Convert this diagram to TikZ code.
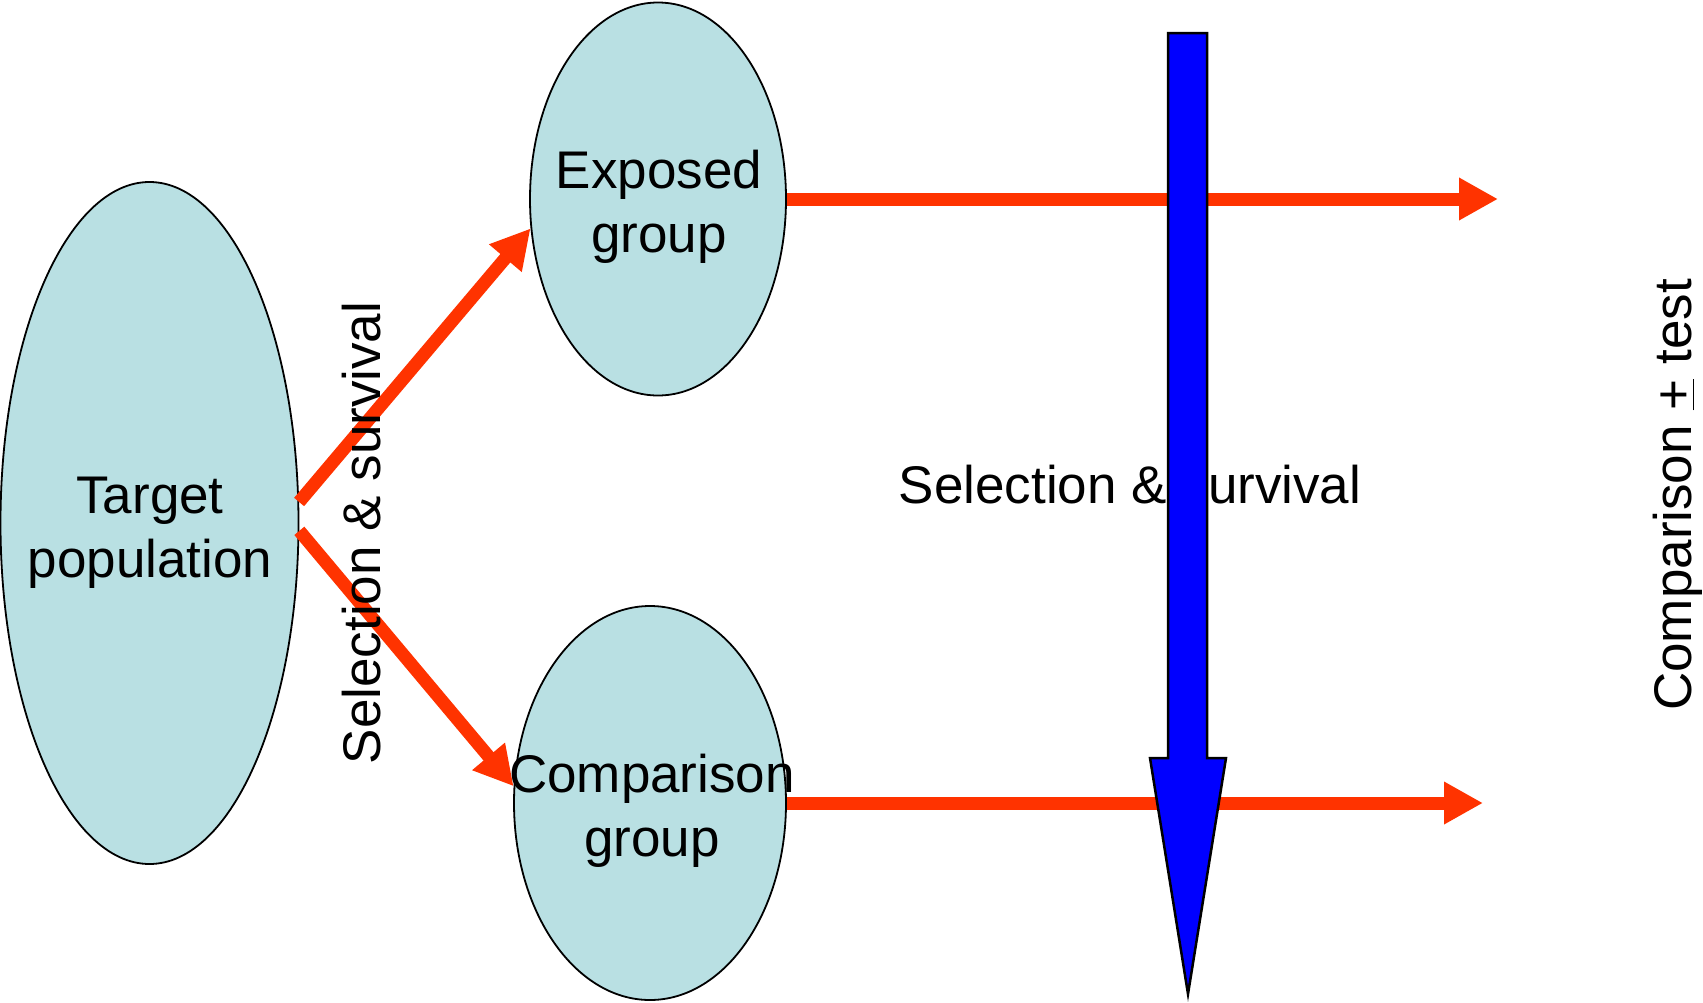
\documentclass[tikz,border=0pt]{standalone}
\usepackage{fontspec}
\setmainfont{Liberation Sans}
\usetikzlibrary{shapes.geometric,arrows.meta}
\definecolor{poolfill}{RGB}{185,224,227}
\definecolor{flow}{RGB}{255,51,0}
\begin{document}
\begin{tikzpicture}[x=1pt,y=-1pt,
  group/.style={ellipse,draw=black,line width=1.8pt,fill=poolfill,inner sep=0pt},
  lbl/.style={font=\fontsize{53}{64}\selectfont,align=center,inner sep=0pt},
  flowarrow/.style={draw=flow,line width=13pt,-{Triangle[length=39pt,width=40pt]}},
  bigarrow/.style={fill=blue,draw=black,line width=2.5pt,line join=miter}
]
\useasboundingbox (0,0) rectangle (1703,1002);

% populations
\node[group,minimum width=298pt,minimum height=682pt] (target) at (149.5,523) {};
\node[group,minimum width=256pt,minimum height=393pt] (exposed) at (658,199) {};
\node[group,minimum width=272pt,minimum height=394pt] (comparison) at (650,803) {};

% free ends of the follow-up arrows
\coordinate (expend) at (1498,199);
\coordinate (compend) at (1483,803);

% selection arrows and follow-up arrows
\draw[flowarrow] (target.8) -- (exposed.193);
\draw[flowarrow] (target.-3) -- (comparison.173);
\draw[flowarrow] (exposed.east) -- (expend);
\draw[flowarrow] (comparison.east) -- (compend);

% side labels
\node[lbl,rotate=90] (selleft) at (362,533) {Selection \& survival};
\node[lbl] (selmid) at (1130,485) {Selection \& survival};
\node[lbl,rotate=90] (cmptest) at (1678,495) {Comparison \underline{+} test};

% downward time arrow
\draw[bigarrow] (1168,33) -- (1207,33) -- (1207,758) -- (1226,758)
  -- (1188,994) -- (1150,758) -- (1168,758) -- cycle;

% group labels
\node[lbl] (targetlbl) at (150,533) {Target\\population};
\node[lbl] (exposedlbl) at (659,207) {Exposed\\group};
\node[lbl] (comparisonlbl) at (652,811) {Comparison\\group};
\end{tikzpicture}
\end{document}
